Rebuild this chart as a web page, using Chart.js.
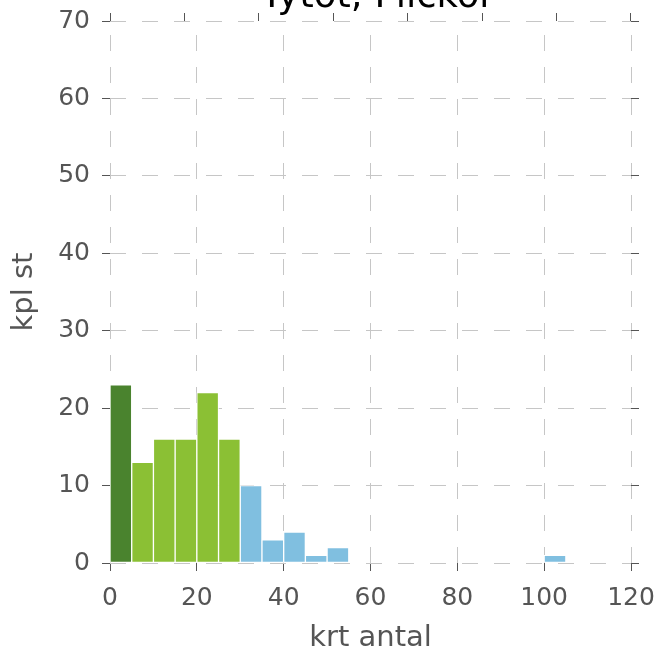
<!DOCTYPE html>
<html>
<head>
<meta charset="utf-8">
<script src="https://cdn.jsdelivr.net/npm/chart.js@4"></script>
<style>
  body { margin: 0; background: #fff; }
  #wrap { width: 661px; height: 650px; }
</style>
</head>
<body>
<div id="wrap"><canvas id="hist" width="661" height="650"></canvas></div>
<script>
// Histogram data (bin width 5)
const binStart = [0, 5, 10, 15, 20, 25, 30, 35, 40, 45, 50, 100];
const counts = [23, 13, 16, 16, 22, 16, 10, 3, 4, 1, 2, 1];
const groups = ['low', 'mid', 'mid', 'mid', 'mid', 'mid', 'high', 'high', 'high', 'high', 'high', 'high'];
const binWidth = 5;

const xTicks = [0, 20, 40, 60, 80, 100, 120];
const yTicks = [0, 10, 20, 30, 40, 50, 60, 70];

const titleText = 'Tytöt, Flickor';
const xTitle = 'krt antal';
const yTitle = 'kpl st';

// Colors
const groupColors = { low: '#4a832e', mid: '#8bc034', high: '#80bfe0' };
const tickColor = '#555555';
const gridColor = '#c6c6c6';
const fontFamily = "'DejaVu Sans', sans-serif";

// Title is drawn by hand so it can sit half off the top like the original
const titlePlugin = {
  id: 'topTitle',
  afterDraw(chart) {
    const ctx = chart.ctx;
    const area = chart.chartArea;
    ctx.save();
    ctx.font = '37px ' + fontFamily;
    ctx.fillStyle = '#000';
    ctx.textAlign = 'center';
    ctx.textBaseline = 'alphabetic';
    ctx.fillText(titleText, (area.left + area.right) / 2 + 7, 7);
    ctx.restore();
  }
};

const tickFont = { family: fontFamily, size: 25 };

// force each axis box to a fixed size and drop label overflow padding
function fixedSize(prop, value) {
  return function (scale) {
    scale[prop] = value;
    scale.paddingLeft = 0;
    scale.paddingRight = 0;
    scale.paddingTop = 0;
    scale.paddingBottom = 0;
  };
}

const histChart = new Chart(document.getElementById('hist'), {
  type: 'bar',
  data: {
    datasets: [{
      data: binStart.map((b, i) => ({ x: b + binWidth / 2, y: counts[i] })),
      backgroundColor: groups.map(g => groupColors[g]),
      borderColor: '#ffffff',
      borderWidth: 1,
      borderSkipped: false,
      barPercentage: 1,
      categoryPercentage: 1
    }]
  },
  options: {
    responsive: false,
    animation: false,
    layout: { padding: 0 },
    plugins: {
      legend: { display: false },
      tooltip: { enabled: false },
      title: { display: false }
    },
    scales: {
      x: {
        type: 'linear',
        position: 'bottom',
        min: 0,
        max: 120,
        offset: false,
        afterBuildTicks: (scale) => { scale.ticks = xTicks.map(v => ({ value: v })); },
        afterFit: fixedSize('height', 87),
        ticks: { color: tickColor, font: tickFont, padding: 12, maxRotation: 0 },
        grid: {
          offset: false,
          color: gridColor,
          lineWidth: 1,
          tickColor: tickColor,
          tickLength: 8,
          tickWidth: 1
        },
        border: { display: false, dash: [16, 16], dashOffset: 18 },
        title: {
          display: true,
          text: xTitle,
          color: tickColor,
          font: { family: fontFamily, size: 29, lineHeight: 1 },
          padding: { top: 0, bottom: -3 }
        }
      },
      y: {
        type: 'linear',
        position: 'left',
        min: 0,
        max: 70,
        afterBuildTicks: (scale) => { scale.ticks = yTicks.map(v => ({ value: v })); },
        afterFit: fixedSize('width', 110),
        ticks: { color: tickColor, font: tickFont, padding: 12 },
        grid: {
          color: gridColor,
          lineWidth: 1,
          tickColor: tickColor,
          tickLength: 8,
          tickWidth: 1
        },
        border: { display: false, dash: [16, 16], dashOffset: 0 },
        title: {
          display: true,
          text: yTitle,
          color: tickColor,
          font: { family: fontFamily, size: 29, lineHeight: 1 },
          padding: { top: 10, bottom: 0 }
        }
      },
      x2: {
        type: 'linear',
        position: 'top',
        min: 0,
        max: 120,
        afterBuildTicks: (scale) => { scale.ticks = xTicks.map(v => ({ value: v })); },
        afterFit: fixedSize('height', 21),
        ticks: { display: false },
        grid: { drawOnChartArea: false, tickColor: tickColor, tickLength: 8, tickWidth: 1 },
        border: { display: false }
      },
      y2: {
        type: 'linear',
        position: 'right',
        min: 0,
        max: 70,
        afterBuildTicks: (scale) => { scale.ticks = yTicks.map(v => ({ value: v })); },
        afterFit: fixedSize('width', 30),
        ticks: { display: false },
        grid: { drawOnChartArea: false, tickColor: tickColor, tickLength: 8, tickWidth: 1 },
        border: { display: false }
      }
    }
  },
  plugins: [titlePlugin]
});
</script>
</body>
</html>
